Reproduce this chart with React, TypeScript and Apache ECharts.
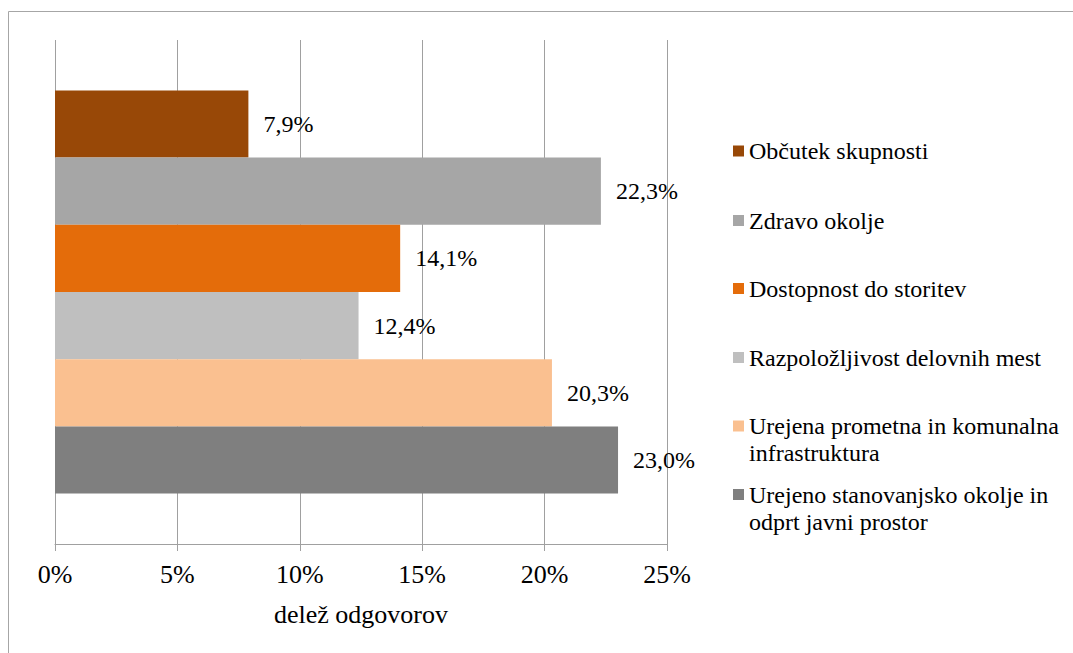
import React, { useEffect, useRef } from "react";
import * as echarts from "echarts";

const seriesNames = [
  "Občutek skupnosti",
  "Zdravo okolje",
  "Dostopnost do storitev",
  "Razpoložljivost delovnih mest",
  "Urejena prometna in komunalna\ninfrastruktura",
  "Urejeno stanovanjsko okolje in\nodprt javni prostor",
];
const seriesValues = [7.9, 22.3, 14.1, 12.4, 20.3, 23.0];
const seriesColors = ["#984807", "#A6A6A6", "#E46C0A", "#BFBFBF", "#FAC090", "#7F7F7F"];
const categories = [""];
const xTicks = { min: 0, max: 25, interval: 5 };
const axisTitle = "delež odgovorov";

const FONT = "Liberation Serif";
const legendCenters = [151, 220.5, 288.5, 357.5, 426, 494.5];

export default function App() {
  const ref = useRef<HTMLDivElement>(null);
  useEffect(() => {
    if (!ref.current) return;
    const chart = echarts.init(ref.current, null, { renderer: "svg" });
    const LH = 27;
    const legends = seriesNames.map((name, i) => {
      const multi = name.includes("\n");
      const H = multi ? LH * 3 : LH;
      return {
        orient: "vertical",
        left: 733,
        top: legendCenters[i] - H / 2,
        padding: 0,
        itemWidth: 11,
        itemHeight: 11,
        icon: "rect",
        data: [name],
        formatter: (n: string) => (n.includes("\n") ? "\n" + n : n),
        textStyle: {
          fontFamily: FONT,
          fontSize: 24,
          color: "#000",
          lineHeight: LH,
        },
        selectedMode: false,
      };
    });
    chart.setOption({
      animation: false,
      textStyle: { fontFamily: FONT },
      grid: { left: 55, right: 406, top: 40, bottom: 109, containLabel: false },
      legend: legends,
      xAxis: {
        type: "value",
        min: xTicks.min,
        max: xTicks.max,
        interval: xTicks.interval,
        name: axisTitle,
        nameLocation: "middle",
        nameGap: 57,
        nameTextStyle: { fontFamily: FONT, fontSize: 26, color: "#000" },
        axisLine: { show: true, lineStyle: { color: "#A0A0A0", width: 1 } },
        axisTick: { show: true, length: 7, lineStyle: { color: "#A0A0A0" } },
        axisLabel: {
          formatter: "{value}%",
          fontFamily: FONT,
          fontSize: 26,
          color: "#000",
          margin: 17,
        },
        splitLine: { show: true, lineStyle: { color: "#A0A0A0", width: 1 } },
      },
      yAxis: {
        type: "category",
        data: categories,
        axisLine: { show: false },
        axisTick: { show: false },
        axisLabel: { show: false },
        splitLine: { show: false },
      },
      series: seriesNames.map((name, i) => ({
        name,
        type: "bar",
        data: [seriesValues[i]],
        barGap: "0%",
        barCategoryGap: "20%",
        itemStyle: { color: seriesColors[i] },
        label: {
          show: true,
          position: "right",
          distance: 15,
          fontFamily: FONT,
          fontSize: 24,
          color: "#000",
          formatter: (p: any) => p.value.toFixed(1).replace(".", ",") + "%",
        },
      })),
      graphic: [
        {
          type: "polyline",
          shape: { points: [[8.5, 653], [8.5, 11.5], [1073, 11.5]] },
          style: { stroke: "#A6A6A6", lineWidth: 1, fill: "none" },
          silent: true,
        },
      ],
    });
    return () => chart.dispose();
  }, []);
  return (
    <div
      ref={ref}
      style={{ position: "absolute", left: 0, top: 0, width: 1073, height: 653, background: "#fff" }}
    />
  );
}
